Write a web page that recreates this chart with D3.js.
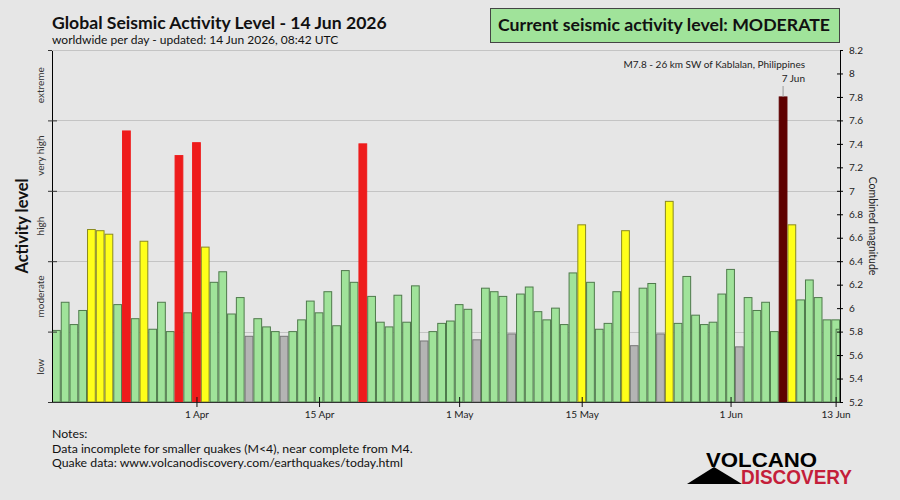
<!DOCTYPE html>
<html lang="en">
<head>
<meta charset="utf-8">
<script src="https://cdn.jsdelivr.net/npm/d3@7"></script>
<style>
  body { margin: 0; background: #e6e6e6; }
  svg { display: block; font-family: Lato, "Open Sans", sans-serif; }
</style>
</head>
<body>
<div id="chart"></div>
<script>
// data: one combined magnitude value per day, 16 Mar - 13 Jun 2026
const firstDay = Date.UTC(2026, 2, 16)
const magnitudes = [
  5.81, 6.05, 5.86, 5.98, 6.67, 6.66, 6.63, 6.03, 7.51, 5.91,
  6.57, 5.82, 6.05, 5.80, 7.30, 5.96, 7.41, 6.52, 6.22, 6.31,
  5.95, 6.09, 5.76, 5.91, 5.84, 5.80, 5.76, 5.80, 5.90, 6.06,
  5.96, 6.14, 5.85, 6.32, 6.22, 7.40, 6.10, 5.88, 5.84, 6.11,
  5.88, 6.19, 5.72, 5.80, 5.87, 5.89, 6.03, 5.99, 5.73, 6.17,
  6.14, 6.10, 5.78, 6.12, 6.18, 5.97, 5.90, 6.00, 5.86, 6.30,
  6.71, 6.22, 5.82, 5.87, 6.14, 6.66, 5.68, 6.17, 6.21, 5.78,
  6.91, 5.87, 6.27, 5.94, 5.86, 5.88, 6.12, 6.33, 5.67, 6.09,
  5.98, 6.05, 5.80, 7.80, 6.71, 6.07, 6.24, 6.09, 5.90, 5.90
]
// today (14 Jun) is still incomplete
const todayValue = 5.82

const levelNames = ['low', 'moderate', 'high', 'very high', 'extreme']
const levelBounds = [5.2, 5.8, 6.4, 7.0, 7.6, 8.2]
const levelFill = ['#b4b4b4', '#a0e39a', '#ffff1a', '#ee1c1c', '#5e0000']
const levelStroke = ['#777777', '#4f7a4c', '#8a8a20', '#ee1c1c', '#5e0000']

const tickDates = [Date.UTC(2026, 3, 1), Date.UTC(2026, 3, 15), Date.UTC(2026, 4, 1),
                   Date.UTC(2026, 4, 15), Date.UTC(2026, 5, 1), Date.UTC(2026, 5, 13)]
const tickLabels = ['1 Apr', '15 Apr', '1 May', '15 May', '1 Jun', '13 Jun']

const magTicks = [5.2, 5.4, 5.6, 5.8, 6, 6.2, 6.4, 6.6, 6.8, 7, 7.2, 7.4, 7.6, 7.8, 8, 8.2]

const w = 900
const h = 500
const pLeft = 52, pRight = 840, pTop = 50, pBottom = 402
const DAY = 864e5

let days = magnitudes.map(function(m, i) {
  return { date: firstDay + i * DAY, mag: m }
})

let svg = d3.select('#chart').append('svg')
  .attr('width', w).attr('height', h)

svg.append('rect').attr('width', w).attr('height', h).attr('fill', '#e6e6e6')

let x = d3.scaleUtc()
  .domain([firstDay - DAY / 2, days[days.length - 1].date + DAY / 2])
  .range([pLeft, pRight])

let y = d3.scaleLinear().domain([5.2, 8.2]).range([pBottom, pTop])

let level = d3.scaleThreshold().domain(levelBounds.slice(1, 5)).range([0, 1, 2, 3, 4])

// gridlines at the level boundaries
svg.selectAll('line.grid')
  .data(levelBounds.slice(1))
  .enter().append('line')
  .attr('x1', pLeft).attr('x2', pRight)
  .attr('y1', function(d) { return Math.round(y(d)) + 0.5 })
  .attr('y2', function(d) { return Math.round(y(d)) + 0.5 })
  .attr('stroke', '#c4c4c4')

// bars
svg.selectAll('rect.bar')
  .data(days)
  .enter().append('rect')
  .attr('x', function(d) { return x(d.date - DAY / 2) + 0.5 })
  .attr('width', function(d) { return x(d.date + DAY / 2) - x(d.date - DAY / 2) - 1 })
  .attr('y', function(d) { return y(d.mag) })
  .attr('height', function(d) { return pBottom - y(d.mag) })
  .attr('fill', function(d) { return levelFill[level(d.mag)] })
  .attr('stroke', function(d) { return levelStroke[level(d.mag)] })
  .attr('stroke-width', 1)

// partial bar for today
let lastX = x(days[days.length - 1].date)
svg.append('rect')
  .attr('x', lastX + 0.5).attr('width', pRight - lastX - 1)
  .attr('y', y(todayValue)).attr('height', pBottom - y(todayValue))
  .attr('fill', levelFill[level(todayValue)])
  .attr('stroke', levelStroke[level(todayValue)])

// left axis (activity levels)
let leftAxis = svg.append('g').attr('transform', 'translate(' + pLeft + ',0)')
  .call(d3.axisLeft(y).tickValues(levelBounds).tickSize(4).tickFormat(''))
leftAxis.select('.domain').attr('stroke', '#000')
leftAxis.selectAll('.tick line').attr('x2', 5).attr('x1', -4).attr('stroke', '#333')

svg.selectAll('text.level')
  .data(levelNames)
  .enter().append('text')
  .attr('transform', function(d, i) {
    return 'translate(44,' + y((levelBounds[i] + levelBounds[i + 1]) / 2) + ') rotate(-90)'
  })
  .attr('text-anchor', 'middle')
  .attr('font-size', 10)
  .attr('fill', '#333')
  .text(function(d) { return d })

svg.append('text')
  .attr('transform', 'translate(28,' + (pTop + pBottom) / 2 + ') rotate(-90)')
  .attr('text-anchor', 'middle')
  .attr('font-size', 16.5).attr('font-weight', 'bold')
  .attr('fill', '#111')
  .text('Activity level')

// right axis (magnitude)
let rightAxis = svg.append('g').attr('transform', 'translate(' + pRight + ',0)')
  .call(d3.axisRight(y).tickValues(magTicks).tickSize(3).tickPadding(6)
    .tickFormat(function(d) { return String(+d.toFixed(1)) }))
rightAxis.select('.domain').attr('stroke', '#000')
rightAxis.selectAll('.tick line').attr('x1', -3).attr('stroke', '#000')
rightAxis.selectAll('text').attr('font-size', 10).attr('font-family', 'Lato').attr('fill', '#222')

svg.append('text')
  .attr('transform', 'translate(869,' + (pTop + pBottom) / 2 + ') rotate(90)')
  .attr('text-anchor', 'middle')
  .attr('font-size', 10.5)
  .attr('fill', '#222')
  .text('Combined magnitude')

// bottom axis
let bottomAxis = svg.append('g').attr('transform', 'translate(0,' + pBottom + ')')
  .call(d3.axisBottom(x).tickValues(tickDates).tickSize(5).tickPadding(4)
    .tickFormat(function(d, i) { return tickLabels[i] }))
bottomAxis.select('.domain').attr('stroke', '#333').attr('d', 'M' + (pLeft - 4) + ',0.5H' + pRight)
bottomAxis.selectAll('.tick line').attr('y1', -5).attr('stroke', '#111')
bottomAxis.selectAll('text').attr('font-size', 10).attr('font-family', 'Lato').attr('fill', '#222')

// top border line
svg.append('line')
  .attr('x1', pLeft).attr('x2', pRight).attr('y1', pTop + 0.5).attr('y2', pTop + 0.5)
  .attr('stroke', '#c4c4c4')

// annotation for the largest quake
let big = days[83]
svg.append('line')
  .attr('x1', x(big.date)).attr('x2', x(big.date))
  .attr('y1', 86).attr('y2', y(big.mag))
  .attr('stroke', '#999')
svg.append('text')
  .attr('x', 805).attr('y', 68).attr('text-anchor', 'end')
  .attr('font-size', 10).attr('fill', '#222')
  .text('M7.8 - 26 km SW of Kablalan, Philippines')
svg.append('text')
  .attr('x', 805).attr('y', 82).attr('text-anchor', 'end')
  .attr('font-size', 10).attr('fill', '#222')
  .text('7 Jun')

// titles
svg.append('text')
  .attr('x', 52).attr('y', 28.5)
  .attr('font-size', 17.6).attr('font-weight', 'bold').attr('fill', '#111')
  .text('Global Seismic Activity Level - 14 Jun 2026')
svg.append('text')
  .attr('x', 52).attr('y', 44)
  .attr('font-size', 12).attr('fill', '#111')
  .text('worldwide per day - updated: 14 Jun 2026, 08:42 UTC')

// current level box
svg.append('rect')
  .attr('x', 490.5).attr('y', 8.5).attr('width', 349).attr('height', 34)
  .attr('fill', '#a0e39a').attr('stroke', '#444')
svg.append('text')
  .attr('x', 664).attr('y', 30.5).attr('text-anchor', 'middle')
  .attr('font-size', 17.7).attr('font-weight', 'bold').attr('fill', '#111')
  .text('Current seismic activity level: MODERATE')

// notes
let notes = ['Notes:', 'Data incomplete for smaller quakes (M<4), near complete from M4.',
             'Quake data: www.volcanodiscovery.com/earthquakes/today.html']
svg.selectAll('text.note')
  .data(notes)
  .enter().append('text')
  .attr('x', 52)
  .attr('y', function(d, i) { return 438 + i * 14.5 })
  .attr('font-size', 12.3).attr('fill', '#111')
  .text(function(d) { return d })

// logo
svg.append('path')
  .attr('d', 'M687,484 L714,467 L742,484 Z')
  .attr('fill', '#000')
svg.append('text')
  .attr('x', 706).attr('y', 467)
  .attr('font-family', 'Liberation Sans, Arial').attr('font-weight', 'bold')
  .attr('font-size', 20).attr('textLength', 111).attr('lengthAdjust', 'spacingAndGlyphs')
  .attr('fill', '#000').text('VOLCANO')
svg.append('text')
  .attr('x', 741).attr('y', 484)
  .attr('font-family', 'Liberation Sans, Arial').attr('font-weight', 'bold')
  .attr('font-size', 20).attr('textLength', 111).attr('lengthAdjust', 'spacingAndGlyphs')
  .attr('fill', '#c41e3a').text('DISCOVERY')
</script>
</body>
</html>
